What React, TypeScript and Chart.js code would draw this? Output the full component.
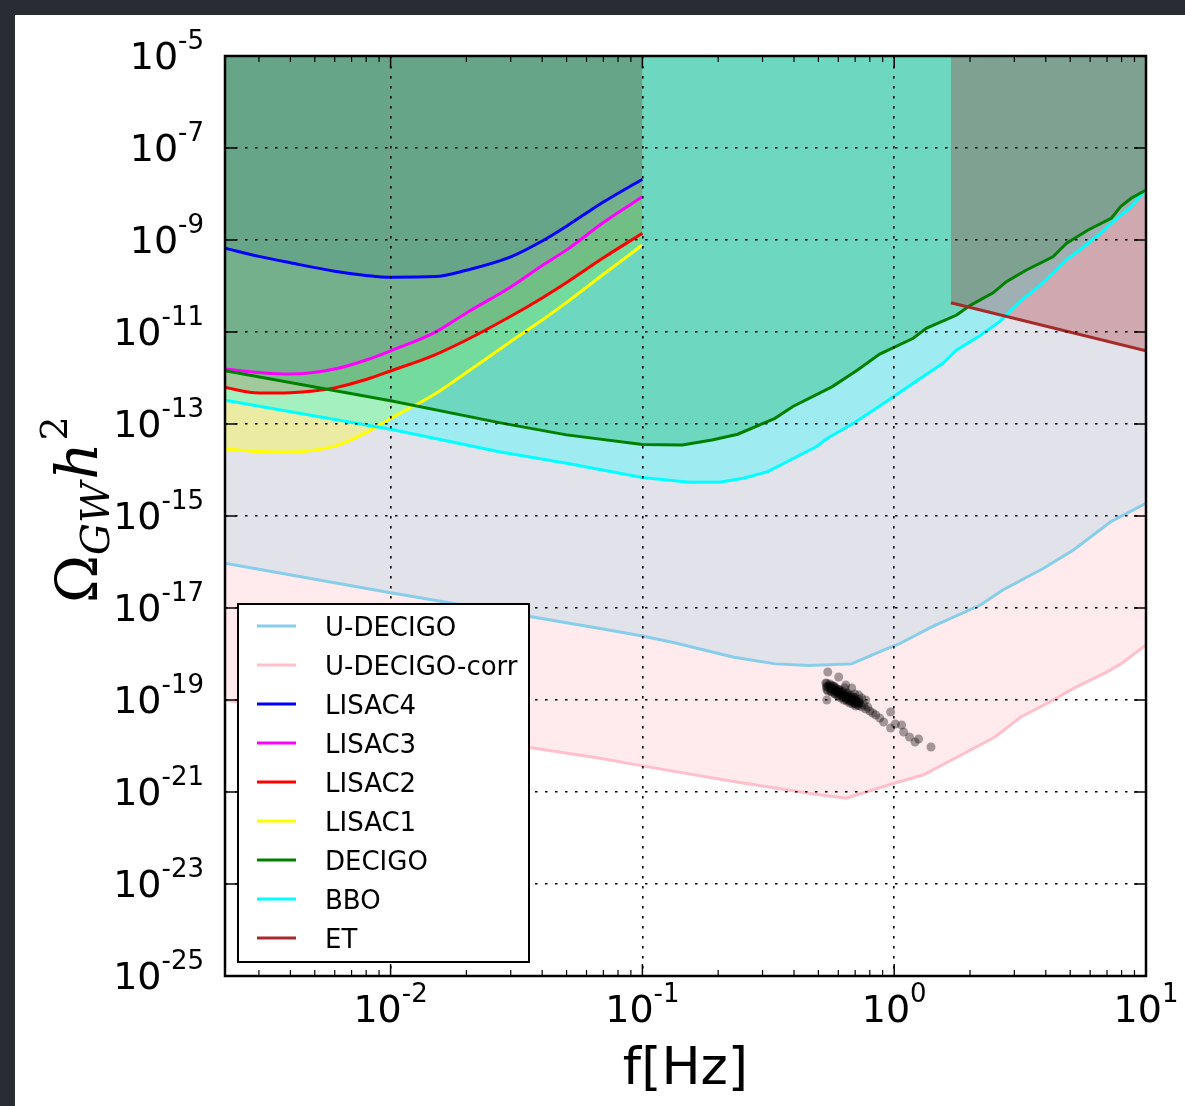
import React, { useEffect, useRef } from 'react';
import { Chart, registerables } from 'chart.js';

Chart.register(...registerables);

// ---------------- data ----------------
const fLisa = [0.0022, 0.003, 0.004, 0.006, 0.008, 0.01, 0.015, 0.02, 0.03, 0.04, 0.05, 0.07, 0.1];
const lisaC4 = [6.6e-10, 4.4e-10, 3.2e-10, 2.1e-10, 1.7e-10, 1.55e-10, 1.6e-10, 2.2e-10, 4.3e-10, 9.5e-10, 2.0e-9, 6.7e-9, 2.1e-8];
const lisaC3 = [1.57e-12, 1.32e-12, 1.22e-12, 1.57e-12, 2.46e-12, 3.9e-12, 9.8e-12, 2.6e-11, 9.5e-11, 2.8e-10, 6.1e-10, 2.4e-9, 8.7e-9];
const lisaC2 = [6.2e-13, 4.7e-13, 4.8e-13, 6.1e-13, 9.3e-13, 1.42e-12, 3.2e-12, 6.7e-12, 2.2e-11, 5.5e-11, 1.19e-10, 4.1e-10, 1.4e-9];
const lisaC1 = [2.86e-14, 2.52e-14, 2.46e-14, 3.3e-14, 6.5e-14, 1.32e-13, 4.5e-13, 1.32e-12, 6.2e-12, 1.82e-11, 4.4e-11, 1.8e-10, 7.8e-10];

const fDecigo = [0.0022, 0.01, 0.027, 0.05, 0.1, 0.144, 0.189, 0.239, 0.336, 0.396, 0.568, 0.715, 0.876, 1.19, 1.34, 1.77, 1.99, 2.47, 2.79, 3.35, 4.27, 4.84, 5.89, 7.3, 7.93, 8.73, 10];
const decigo = [1.44e-12, 3.2e-13, 1.07e-13, 5.8e-14, 3.6e-14, 3.5e-14, 4.5e-14, 6.0e-14, 1.33e-13, 2.4e-13, 6.5e-13, 1.5e-12, 3.3e-12, 7.3e-12, 1.2e-11, 2.34e-11, 3.7e-11, 7.1e-11, 1.24e-10, 2.23e-10, 4.3e-10, 8.5e-10, 1.65e-9, 3.0e-9, 5.3e-9, 8.1e-9, 1.22e-8];

const fBbo = [0.0022, 0.01, 0.027, 0.05, 0.1, 0.154, 0.202, 0.252, 0.315, 0.399, 0.49, 0.543, 0.689, 0.876, 1.19, 1.56, 1.77, 2.18, 2.62, 3.15, 3.67, 4.27, 4.82, 5.45, 5.89, 6.72, 7.41, 8.6, 9.34, 10];
const bbo = [3.3e-13, 7.7e-14, 2.5e-14, 1.4e-14, 6.9e-15, 5.4e-15, 5.4e-15, 6.6e-15, 9.2e-15, 1.8e-14, 3.2e-14, 4.9e-14, 1.04e-13, 2.46e-13, 7.7e-13, 2.09e-12, 4.06e-12, 8.2e-12, 1.68e-11, 4.56e-11, 8.9e-11, 1.89e-10, 3.67e-10, 6.07e-10, 8.5e-10, 1.51e-9, 2.5e-9, 4.9e-9, 8.1e-9, 1.22e-8];

const fUdecigo = [0.0022, 0.01, 0.068, 0.1, 0.134, 0.231, 0.337, 0.458, 0.678, 0.906, 1.04, 1.41, 2.2, 2.7, 3.92, 5.15, 7.24, 10];
const uDecigo = [9.4e-17, 2.15e-17, 3.6e-18, 2.46e-18, 1.76e-18, 8.5e-19, 6.1e-19, 5.6e-19, 6.1e-19, 1.22e-18, 1.63e-18, 3.9e-18, 1.16e-17, 2.46e-17, 7.3e-17, 1.82e-16, 7.5e-16, 1.89e-15];

const fCorr = [0.0022, 0.01, 0.068, 0.1, 0.224, 0.458, 0.644, 1.0, 1.3, 1.79, 2.52, 3.19, 4.06, 5.15, 7.0, 8.02, 10];
const uDecigoCorr = [1.0e-19, 2.7e-20, 5.4e-21, 3.7e-21, 1.73e-21, 9.4e-22, 7.3e-22, 1.55e-21, 2.34e-21, 5.85e-21, 1.59e-20, 4.33e-20, 8.5e-20, 1.79e-19, 4.1e-19, 6.3e-19, 1.57e-18];

const fEt = [1.68, 10];
const et = [4.34e-11, 3.92e-12];

const scatterF = [
  0.545, 0.540, 0.535, 0.540, 0.545, 0.555, 0.560, 0.565, 0.570, 0.576, 0.581, 0.586, 0.592, 0.597, 0.602, 0.608,
  0.614, 0.619, 0.625, 0.631, 0.637, 0.642, 0.648, 0.654, 0.660, 0.666, 0.672, 0.678, 0.685, 0.691, 0.697, 0.703,
  0.710, 0.716, 0.730, 0.743, 0.757, 0.771, 0.785, 0.800, 0.822, 0.845, 0.876, 0.908, 0.968, 0.968, 1.01, 1.07,
  1.09, 1.15, 1.21, 1.25, 1.40, 0.602, 0.642, 0.678, 0.723, 0.637, 0.697, 0.743, 0.771, 0.550, 0.565, 0.581,
  0.597, 0.614, 0.631, 0.648, 0.666, 0.685, 0.703, 0.723, 0.576, 0.608, 0.654, 0.691,
  0.540, 0.560, 0.581, 0.602, 0.625, 0.648, 0.672, 0.697, 0.723,
  0.540, 0.560, 0.581, 0.602, 0.625, 0.648, 0.672, 0.697, 0.723,
  0.540, 0.560, 0.581, 0.602, 0.625, 0.648, 0.672, 0.697, 0.723,
];
const scatterOmega = [
  4.06e-19, 1.0e-19, 2.34e-19, 1.92e-19, 1.57e-19, 2.23e-19, 1.82e-19, 1.49e-19, 2.02e-19, 1.65e-19, 1.35e-19, 1.82e-19, 1.49e-19, 1.22e-19, 1.65e-19, 1.35e-19,
  1.105e-19, 1.49e-19, 1.22e-19, 1.0e-19, 1.35e-19, 1.105e-19, 9.51e-20, 1.22e-19, 1.0e-19, 8.61e-20, 1.16e-19, 9.51e-20, 8.19e-20, 1.05e-19, 8.61e-20, 7.41e-20,
  9.51e-20, 7.79e-20, 8.61e-20, 7.05e-20, 7.79e-20, 6.38e-20, 7.05e-20, 5.77e-20, 5.22e-20, 4.72e-20, 4.06e-20, 3.32e-20, 5.49e-20, 2.46e-20, 3.0e-20, 2.86e-20,
  2.02e-20, 1.57e-20, 1.22e-20, 1.42e-20, 9.5e-21, 3.16e-19, 2.12e-19, 1.82e-19, 1.28e-19, 1.82e-19, 1.35e-19, 1.105e-19, 1.0e-19, 2.02e-19, 1.73e-19, 1.65e-19,
  1.49e-19, 1.35e-19, 1.22e-19, 1.16e-19, 1.05e-19, 1.0e-19, 9.05e-20, 8.61e-20, 2.02e-19, 1.65e-19, 1.42e-19, 1.16e-19,
  2.29e-19, 2.07e-19, 1.87e-19, 1.69e-19, 1.53e-19, 1.38e-19, 1.25e-19, 1.13e-19, 1.03e-19,
  1.69e-19, 1.53e-19, 1.38e-19, 1.25e-19, 1.13e-19, 1.03e-19, 9.27e-20, 8.39e-20, 7.59e-20,
  1.97e-19, 1.78e-19, 1.61e-19, 1.46e-19, 1.32e-19, 1.19e-19, 1.08e-19, 9.75e-20, 8.83e-20,
];

// ticks
const xMajorTicks = [0.01, 0.1, 1, 10];
const xMajorExp = ['-2', '-1', '0', '1'];
const xMinorTicks = [0.003, 0.004, 0.005, 0.006, 0.007, 0.008, 0.009, 0.02, 0.03, 0.04, 0.05, 0.06, 0.07, 0.08, 0.09, 0.2, 0.3, 0.4, 0.5, 0.6, 0.7, 0.8, 0.9, 2, 3, 4, 5, 6, 7, 8, 9];
const yMajorTicks = [1e-5, 1e-7, 1e-9, 1e-11, 1e-13, 1e-15, 1e-17, 1e-19, 1e-21, 1e-23, 1e-25];
const yMajorExp = ['-5', '-7', '-9', '-11', '-13', '-15', '-17', '-19', '-21', '-23', '-25'];

// legend
const legendLabels = ['U-DECIGO', 'U-DECIGO-corr', 'LISAC4', 'LISAC3', 'LISAC2', 'LISAC1', 'DECIGO', 'BBO', 'ET'];
const legendColors = ['#87ceeb', '#ffc0cb', '#0000ff', '#ff00ff', '#ff0000', '#ffff00', '#008000', '#00ffff', '#a52a2a'];

const FONT = '"DejaVu Sans", "Liberation Sans", sans-serif';

function pts(xs: number[], ys: number[]) {
  return xs.map((x, i) => ({ x, y: ys[i] }));
}

function drawPow(ctx: CanvasRenderingContext2D, exp: string, xRef: number, baseY: number, align: 'right' | 'center') {
  ctx.font = `38px ${FONT}`;
  const w1 = ctx.measureText('10').width;
  ctx.font = `26px ${FONT}`;
  const w2 = ctx.measureText(exp).width;
  const total = w1 + w2;
  const x0 = align === 'right' ? xRef - total : xRef - total / 2;
  ctx.textAlign = 'left';
  ctx.textBaseline = 'alphabetic';
  ctx.font = `38px ${FONT}`;
  ctx.fillText('10', x0, baseY);
  ctx.font = `26px ${FONT}`;
  ctx.fillText(exp, x0 + w1, baseY - 20);
}

const decorPlugin = {
  id: 'decor',
  afterDraw(chart: any) {
    const { ctx, chartArea: a, scales } = chart;
    const xs = scales.x;
    const ys = scales.y;
    ctx.save();
    ctx.strokeStyle = '#000';
    ctx.fillStyle = '#000';
    ctx.setLineDash([]);
    const seg = (x1: number, y1: number, x2: number, y2: number) => {
      ctx.beginPath();
      ctx.moveTo(x1, y1);
      ctx.lineTo(x2, y2);
      ctx.stroke();
    };
    // ticks (inward)
    ctx.lineWidth = 1.5;
    xMajorTicks.forEach((v) => {
      const px = xs.getPixelForValue(v);
      seg(px, a.bottom, px, a.bottom - 12);
      seg(px, a.top, px, a.top + 12);
    });
    ctx.lineWidth = 1.2;
    xMinorTicks.forEach((v) => {
      const px = xs.getPixelForValue(v);
      seg(px, a.bottom, px, a.bottom - 6);
      seg(px, a.top, px, a.top + 6);
    });
    ctx.lineWidth = 1.5;
    yMajorTicks.forEach((v) => {
      const py = ys.getPixelForValue(v);
      seg(a.left, py, a.left + 12, py);
      seg(a.right, py, a.right - 12, py);
    });
    // frame
    ctx.lineWidth = 2.5;
    ctx.strokeRect(a.left, a.top, a.right - a.left, a.bottom - a.top);

    // tick labels
    ctx.fillStyle = '#000';
    xMajorTicks.forEach((v, i) => {
      const px = xs.getPixelForValue(v);
      drawPow(ctx, xMajorExp[i], px, a.bottom + 46, 'center');
    });
    yMajorTicks.forEach((v, i) => {
      const py = ys.getPixelForValue(v);
      drawPow(ctx, yMajorExp[i], 204, py + 12.5, 'right');
    });

    // legend box
    const lx = 238, ly = 604, lw = 291, lh = 358;
    ctx.fillStyle = '#ffffff';
    ctx.fillRect(lx, ly, lw, lh);
    ctx.lineWidth = 2;
    ctx.strokeStyle = '#000';
    ctx.strokeRect(lx, ly, lw, lh);
    legendLabels.forEach((lab, i) => {
      const rowY = 626 + 39 * i;
      ctx.strokeStyle = legendColors[i];
      ctx.lineWidth = 3;
      seg(257, rowY, 296, rowY);
      ctx.fillStyle = '#000';
      ctx.font = `26px ${FONT}`;
      ctx.textAlign = 'left';
      ctx.textBaseline = 'alphabetic';
      ctx.fillText(lab, 325, rowY + 9.5);
    });

    // x title
    ctx.fillStyle = '#000';
    ctx.font = `52px ${FONT}`;
    ctx.textAlign = 'center';
    ctx.textBaseline = 'alphabetic';
    ctx.fillText('f[Hz]', (a.left + a.right) / 2, 1084);

    // y title: Omega_GW h^2 (rotated)
    ctx.save();
    ctx.translate(97, 603);
    ctx.rotate(-Math.PI / 2);
    ctx.textAlign = 'left';
    let u = 0;
    ctx.font = `58px "DejaVu Serif", serif`;
    ctx.fillText('\u03A9', u, 0);
    u += ctx.measureText('\u03A9').width;
    ctx.font = `italic 40px "DejaVu Serif", serif`;
    ctx.fillText('GW', u, 12);
    u += ctx.measureText('GW').width + 2;
    ctx.font = `italic 58px "DejaVu Serif", serif`;
    ctx.fillText('h', u, 0);
    u += ctx.measureText('h').width + 2;
    ctx.font = `38px "DejaVu Serif", serif`;
    ctx.fillText('2', u, -30);
    ctx.restore();

    ctx.restore();
  },
};

export default function App() {
  const ref = useRef<HTMLCanvasElement | null>(null);

  useEffect(() => {
    if (!ref.current) return;
    const line = (label: string, xs: number[], ys: number[], color: string, fillColor: string, order: number, smooth = false) => ({
      label,
      data: pts(xs, ys),
      borderColor: color,
      backgroundColor: fillColor,
      borderWidth: 3,
      pointRadius: 0,
      tension: 0,
      cubicInterpolationMode: smooth ? 'monotone' : 'default',
      fill: 'end',
      order,
    });
    const chart = new Chart(ref.current, {
      type: 'line',
      data: {
        datasets: [
          {
            label: 'samples',
            data: pts(scatterF, scatterOmega),
            showLine: false,
            pointRadius: 4.5,
            pointBorderWidth: 0,
            pointBackgroundColor: 'rgba(0,0,0,0.36)',
            borderColor: 'rgba(0,0,0,0)',
            fill: false,
            order: 0,
          } as any,
          line('U-DECIGO', fUdecigo, uDecigo, '#87ceeb', 'rgba(160,204,228,0.3)', 8),
          line('U-DECIGO-corr', fCorr, uDecigoCorr, '#ffc0cb', 'rgba(255,192,203,0.33)', 9),
          line('LISAC4', fLisa, lisaC4, '#0000ff', 'rgba(150,72,100,0.3)', 4, true),
          line('LISAC3', fLisa, lisaC3, '#ff00ff', 'rgba(255,75,155,0.3)', 5, true),
          line('LISAC2', fLisa, lisaC2, '#ff0000', 'rgba(230,50,0,0.3)', 6, true),
          line('LISAC1', fLisa, lisaC1, '#ffff00', 'rgba(255,255,0,0.3)', 7, true),
          line('DECIGO', fDecigo, decigo, '#008000', 'rgba(0,169,79,0.3)', 2),
          line('BBO', fBbo, bbo, '#00ffff', 'rgba(0,255,255,0.3)', 3),
          line('ET', fEt, et, '#a52a2a', 'rgba(165,42,42,0.31)', 1),
        ] as any,
      },
      options: {
        animation: false,
        responsive: false,
        devicePixelRatio: 1,
        layout: { padding: { left: 0, top: 56, right: 39, bottom: 0 } },
        plugins: {
          legend: { display: false },
          tooltip: { enabled: false },
          filler: { drawTime: 'beforeDatasetsDraw' } as any,
        },
        scales: {
          x: {
            type: 'logarithmic',
            min: 0.0022,
            max: 10,
            afterBuildTicks: (s: any) => {
              s.ticks = xMajorTicks.map((v) => ({ value: v }));
            },
            afterFit: (s: any) => {
              s.height = 130;
            },
            ticks: { display: false },
            grid: { color: '#000', lineWidth: 1.6, drawTicks: false, z: 1 } as any,
            border: { display: false, dash: [2.5, 7.5] } as any,
          },
          y: {
            type: 'logarithmic',
            min: 1e-25,
            max: 1e-5,
            afterBuildTicks: (s: any) => {
              s.ticks = yMajorTicks.map((v) => ({ value: v }));
            },
            afterFit: (s: any) => {
              s.width = 225;
            },
            ticks: { display: false },
            grid: { color: '#000', lineWidth: 1.6, drawTicks: false, z: 1 } as any,
            border: { display: false, dash: [2.5, 7.5] } as any,
          },
        },
      },
      plugins: [decorPlugin],
    });
    return () => chart.destroy();
  }, []);

  return (
    <div style={{ position: 'fixed', left: 0, top: 0, width: 1185, height: 1106, background: '#2a2c34', overflow: 'hidden' }}>
      <div style={{ position: 'absolute', left: 15, top: 15, right: 0, bottom: 0, background: '#ffffff' }} />
      <canvas ref={ref} width={1185} height={1106} style={{ position: 'absolute', left: 0, top: 0, width: 1185, height: 1106 }} />
    </div>
  );
}
